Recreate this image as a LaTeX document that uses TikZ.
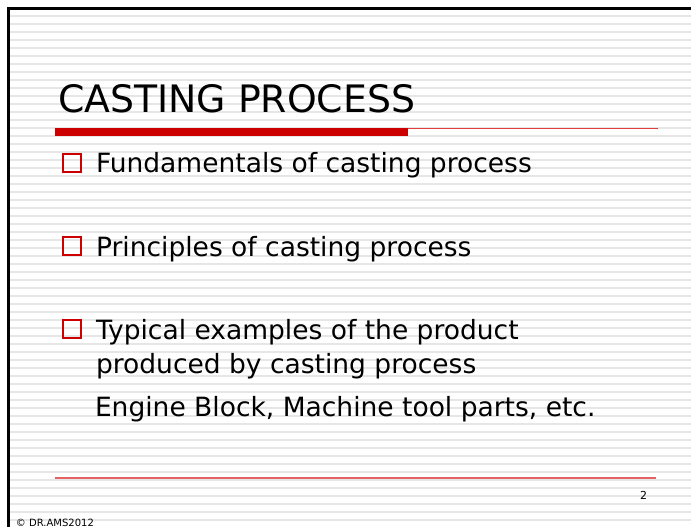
\documentclass[tikz,border=0pt]{standalone}
\usepackage{fontspec}
\setmainfont{DejaVu Sans}
\newfontfamily\titlefont{DejaVu Sans}
\newfontfamily\bodyfont{DejaVu Sans}
\definecolor{stripe}{RGB}{230,230,230}
\definecolor{barred}{RGB}{204,0,0}
\definecolor{rulered}{RGB}{226,60,60}
\definecolor{footred}{RGB}{226,100,100}
\tikzset{
  txt/.style={anchor=base west, inner sep=0pt, outer sep=0pt},
  bodytxt/.style={txt, font=\bodyfont\fontsize{26.5}{30}\selectfont},
  bulletbox/.style={draw=barred, line width=2pt, minimum width=18pt, minimum height=18pt, inner sep=0pt},
}
\begin{document}
\begin{tikzpicture}[x=1pt, y=-1pt]
  \useasboundingbox (0,0) rectangle (691,527);
  \fill[white] (0,0) rectangle (691,527);
  % ruled background
  \foreach \yy in {16,24,...,527}
    \draw[stripe, line width=1.8pt] (9,\yy) -- (691,\yy);
  % frame edges
  \draw[black, line width=3pt] (8,527) -- (8,8.5) -- (691,8.5);
  % title and its rule
  \node[txt, font=\titlefont\fontsize{37.8}{42}\selectfont] (title) at (58,113) {CASTING PROCESS};
  \fill[barred] (55,128) rectangle (408,136);
  \draw[rulered, line width=1pt] (408,128.5) -- (658,128.5);
  % bullet points
  \node[bulletbox] (b1) at (71.5,162.5) {};
  \node[bodytxt] (t1) at (96,172) {Fundamentals of casting process};
  \node[bulletbox] (b2) at (71.5,246) {};
  \node[bodytxt] (t2) at (96,256) {Principles of casting process};
  \node[bulletbox] (b3) at (71.5,329) {};
  \node[bodytxt] (t3) at (96,339) {Typical examples of the product};
  \node[bodytxt] (t4) at (96,373) {produced by casting process};
  \node[bodytxt] (t5) at (95,416) {Engine Block, Machine tool parts, etc.};
  % footer
  \draw[footred, line width=1.5pt] (55,478) -- (656,478);
  \node[txt, font=\fontsize{11}{13}\selectfont] (page) at (640,499) {2};
  \node[txt, font=\fontsize{10}{12}\selectfont] (copy) at (16,526) {© DR.AMS2012};
\end{tikzpicture}
\end{document}
